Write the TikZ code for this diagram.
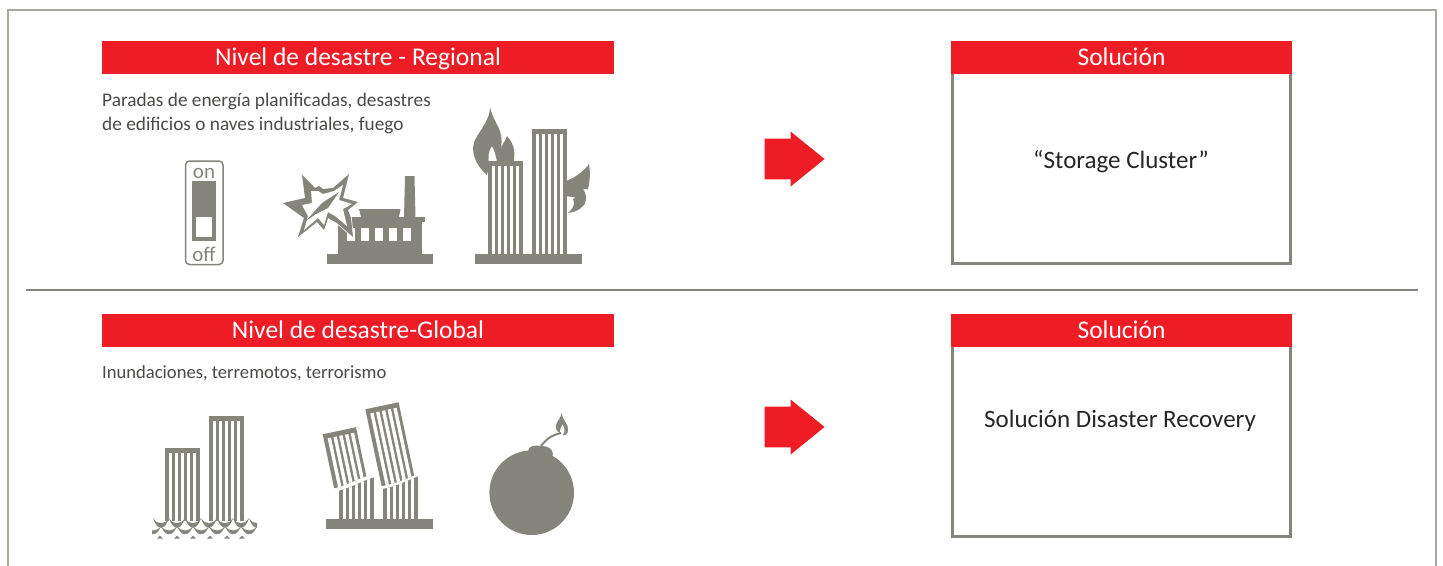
\documentclass[tikz,border=0pt]{standalone}
\usepackage{fontspec}
\setmainfont{Carlito}
\usetikzlibrary{shapes.arrows, positioning}
\definecolor{alertred}{HTML}{EE1C25}
\definecolor{icongray}{HTML}{85857B}
\definecolor{framegray}{HTML}{A8A89F}
\definecolor{copytext}{HTML}{4A4A48}

\begin{document}
\begin{tikzpicture}[
    x=1pt, y=-1pt,
    header/.style={rectangle, fill=alertred, text=white, minimum height=33pt, text height=17pt, text depth=1pt, inner sep=0pt, outer sep=0pt, font=\fontsize{25.5}{28}\selectfont},
    copy/.style={inner sep=0pt, align=left, text=copytext, font=\fontsize{19.3}{24}\selectfont},
    solbox/.style={rectangle, draw=icongray, line width=3pt, minimum width=338pt, minimum height=191pt, inner sep=0pt},
    soltext/.style={inner sep=0pt, text=black!85, font=\fontsize{25}{28}\selectfont},
    bigarrow/.style={single arrow, fill=alertred, minimum height=60pt, minimum width=55pt, single arrow tip angle=78, inner xsep=0pt, inner ysep=20pt, outer sep=0pt},
    switchtext/.style={inner sep=0pt, text=icongray, font=\fontsize{21}{22}\selectfont},
    icon/.style={fill=icongray},
    pics/tower/.style n args={2}{code={
        \fill[icongray] (0,0) rectangle (#1,#2);
        \foreach \s in {0,...,4} \fill[white] ({4+\s*5.9},5) rectangle ({7.4+\s*5.9},#2);
    }}
]
\useasboundingbox (0,0) rectangle (1443,565);

% Outer frame and divider
\draw[framegray, line width=2pt] (8,570) -- (8,10) -- (1436,10) -- (1436,570);
\coordinate (divleft) at (26,290);
\coordinate (divright) at (1418,290);
\draw[icongray, line width=2pt] (divleft) -- (divright);

% Regional row
\node[header, minimum width=512pt] (regionalhead) at (358,57.5) {Nivel de desastre - Regional};
\node[copy, below=19pt of regionalhead.south west, anchor=north west] (regionalcopy) {Paradas de energía planificadas, desastres\\de edificios o naves industriales, fuego};
\node[bigarrow] (regionalarrow) at (782,159) {};
\node[solbox] (solboxa) at (1121.5,168) {};
\node[header, minimum width=341pt, above=-3pt of solboxa] (solheada) {Solución};
\node[soltext] (soltexta) at (1121,162) {“Storage Cluster”};

% Global row
\node[header, minimum width=512pt] (globalhead) at (358,330.5) {Nivel de desastre-Global};
\node[copy, below=18.5pt of globalhead.south west, anchor=north west, font=\fontsize{18.6}{24}\selectfont] (globalcopy) {Inundaciones, terremotos, terrorismo};
\node[bigarrow] (globalarrow) at (782,427) {};
\node[solbox] (solboxb) at (1121.5,441) {};
\node[header, minimum width=341pt, above=-3pt of solboxb] (solheadb) {Solución};
\node[soltext] (soltextb) at (1120,421) {Solución Disaster Recovery};

% Switch
\draw[icongray, line width=1.5pt, rounded corners=4pt] (185.5,161) rectangle (223,264.5);
\fill[icon] (192,181) rectangle (216,241);
\fill[white] (196,217) rectangle (212,237);
\node[switchtext] (switchon) at (204,173) {on};
\node[switchtext] (switchoff) at (204,254) {off};

% Factory
\fill[icon] (326.5,254) rectangle (433,264);
\fill[icon] (337.5,221) rectangle (421.5,254);
\fill[icon] (337.5,217) rectangle (425,222);
\fill[icon] (359,209) -- (400.5,209) -- (399,217) -- (361,217) -- cycle;
\fill[icon] (405,176) -- (414.5,176) -- (415.5,218) -- (404,218) -- cycle;
\foreach \wx in {347,361,375,389,403} \fill[white] (\wx,228) rectangle ++(8,13);

% Explosion
\fill[white, draw=white, line width=1.5pt] (283,203) -- (305,198) -- (302,175) -- (315,188) -- (319,186) -- (323,189) -- (333,188) -- (349,174) -- (343,198) -- (358,202) -- (348,210) -- (351,218) -- (353,237) -- (337,223) -- (328,218) -- (324,230) -- (317,222) -- (298,237) -- (304,218) -- cycle;
\fill[icon] (283,203) -- (305,198) -- (302,175) -- (315,188) -- (319,186) -- (323,189) -- (333,188) -- (349,174) -- (343,198) -- (358,202) -- (348,210) -- (351,218) -- (353,237) -- (337,223) -- (328,218) -- (324,230) -- (317,222) -- (298,237) -- (304,218) -- cycle;
\fill[white] (302,205) -- (312,203) -- (311,191) -- (318,191) -- (323,194) -- (334,191) -- (343,185) -- (339,200) -- (352,204) -- (343,209) -- (347,226) -- (335,216) -- (328,212) -- (324,225) -- (318,218) -- (304,230) -- (308,216) -- cycle;
\fill[icon] (306,221) -- (322,203) -- (339,192) -- (328,208) -- (316,214) -- cycle;

% Burning towers
\fill[icon] (490,107) .. controls (494,125) and (504,128) .. (501,148) .. controls (503,143) and (506,140) .. (507,136) .. controls (516,146) and (515,155) .. (513,165) -- (497,165) .. controls (497,157) and (494,150) .. (492,146) .. controls (488,151) and (488,158) .. (489,165) -- (487,175) .. controls (475,165) and (470,150) .. (475,140) .. controls (480,130) and (490,120) .. (490,107) -- cycle;
\fill[icon] (566,181) .. controls (575,178) and (585,170) .. (589,164) .. controls (591,175) and (589,185) .. (588,189) -- (583,189) .. controls (588,196) and (586,205) .. (582,207) .. controls (577,212) and (572,212) .. (568,213) .. controls (574,208) and (575,203) .. (573,199) -- (576,197) -- (572,197) -- (566,196) -- cycle;
\pic at (488,161) {tower={35}{93}};
\pic at (532,129) {tower={35}{125}};
\fill[icon] (475,254) rectangle (582,264);

% Flooded towers
\pic at (165,448) {tower={35}{73}};
\pic at (209,416) {tower={35}{105}};
\begin{scope}
  \clip (152,510) rectangle (257,538.5);
  \fill[white] (152,521) rectangle (257,539);
  \foreach \s in {0,...,6} {
    \fill[icon] ({153+\s*16},518) .. controls ({157+\s*16},531) and ({165+\s*16},531) .. ({169+\s*16},518) .. controls ({165+\s*16},525) and ({157+\s*16},525) .. ({153+\s*16},518) -- cycle;
    \fill[icon] ({145+\s*16},526) .. controls ({149+\s*16},537) and ({157+\s*16},537) .. ({161+\s*16},526) .. controls ({157+\s*16},532) and ({149+\s*16},532) .. ({145+\s*16},526) -- cycle;
  }
  \foreach \wx in {160,177,193,210,227,242} \fill[icon] (\wx,535.5) -- ++(3,3) -- ++(-6,0) -- cycle;
\end{scope}

% Collapsed towers
\begin{scope}
  \clip (338,491) .. controls (350,488) and (362,481) .. (375,477) -- (375,520) -- (338,520) -- cycle;
  \pic at (339,460) {tower={35}{60}};
\end{scope}
\begin{scope}
  \clip (382,489) .. controls (395,487) and (406,481) .. (419,476) -- (419,520) -- (382,520) -- cycle;
  \pic at (383,460) {tower={35}{60}};
\end{scope}
\begin{scope}
  \clip (310,420) -- (372,420) -- (367,476) .. controls (357,479) and (345,486) .. (335,488) -- (315,490) -- cycle;
  \pic[rotate=12] at (322.7,434.3) {tower={34}{70}};
\end{scope}
\begin{scope}
  \clip (355,395) -- (425,395) -- (417,474) .. controls (405,480) and (393,484) .. (382,486) -- (355,490) -- cycle;
  \pic[rotate=12] at (365.3,409.3) {tower={34}{90}};
\end{scope}
\fill[icon] (326,519) rectangle (433,529);

% Bomb
\fill[icon] (531.7,492.7) circle (42.3pt);
\fill[icon, rounded corners=4pt] (527,451) -- (531,445.5) -- (546,446) -- (553,450) -- (553,458) -- (530,458) -- cycle;
\draw[icongray, line width=2pt] (541,446) .. controls (548,437) and (553,435) .. (561,433);
\fill[icon] (561.5,413) .. controls (562,420) and (569,424) .. (568,430) .. controls (568,434) and (565,436) .. (563,435) .. controls (566,431) and (564,427) .. (562.5,424) .. controls (561,428) and (559,431) .. (560,433) .. controls (557,432) and (555,428) .. (556,425) .. controls (557,421) and (561,418) .. (561.5,413) -- cycle;

\end{tikzpicture}
\end{document}
